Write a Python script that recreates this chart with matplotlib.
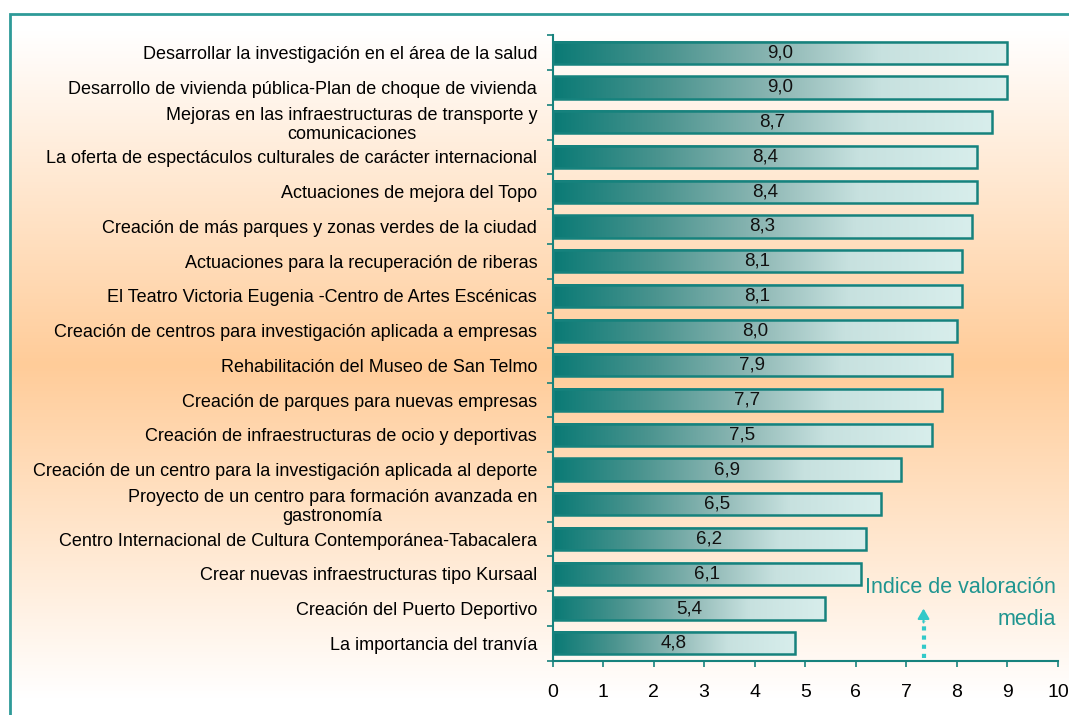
import numpy as np
import matplotlib
matplotlib.use("Agg")
import matplotlib.pyplot as plt
from matplotlib.colors import LinearSegmentedColormap, to_rgb
from matplotlib.patches import Rectangle

categories = [
    "Desarrollar la investigación en el área de la salud",
    "Desarrollo de vivienda pública-Plan de choque de vivienda",
    "Mejoras en las infraestructuras de transporte y\ncomunicaciones",
    "La oferta de espectáculos culturales de carácter internacional",
    "Actuaciones de mejora del Topo",
    "Creación de más parques y zonas verdes de la ciudad",
    "Actuaciones para la recuperación de riberas",
    "El Teatro Victoria Eugenia -Centro de Artes Escénicas",
    "Creación de centros para investigación aplicada a empresas",
    "Rehabilitación del Museo de San Telmo",
    "Creación de parques para nuevas empresas",
    "Creación de infraestructuras de ocio y deportivas",
    "Creación de un centro para la investigación aplicada al deporte",
    "Proyecto de un centro para formación avanzada en\ngastronomía",
    "Centro Internacional de Cultura Contemporánea-Tabacalera",
    "Crear nuevas infraestructuras tipo Kursaal",
    "Creación del Puerto Deportivo",
    "La importancia del tranvía",
]
values = [9.0, 9.0, 8.7, 8.4, 8.4, 8.3, 8.1, 8.1, 8.0, 7.9, 7.7, 7.5, 6.9, 6.5, 6.2, 6.1, 5.4, 4.8]
xticks = list(range(0, 11))
note_text = "Indice de valoración\nmedia"
note_x = 7.34

FONT = ["Liberation Sans", "DejaVu Sans"]
plt.rcParams["font.family"] = FONT

W, H = 1069, 715
fig = plt.figure(figsize=(W / 100, H / 100), dpi=100)
fig.patch.set_facecolor("white")

# background gradient inside frame
fx0, ftop = 10 / W, 1 - 14 / H
bg = fig.add_axes([fx0, 0, 1 - fx0, ftop], zorder=-10)
bg.set_axis_off()
t = np.linspace(0, 1, 400)
f = np.clip(1 - np.abs(2 * t - 1) * 1.05, 0, 1)
orange = np.array(to_rgb("#ffcc99"))
white = np.array([1.0, 1.0, 1.0])
grad = white[None, :] * (1 - f[:, None]) + orange[None, :] * f[:, None]
bg.imshow(grad[:, None, :], aspect="auto", extent=(0, 1, 0, 1), origin="upper")
bg.set_xlim(0, 1)
bg.set_ylim(0, 1)
fig.patches.append(Rectangle((fx0, -0.1), 1.2, ftop + 0.1, transform=fig.transFigure,
                             fill=False, edgecolor="#2e9a98", lw=2, zorder=5))

ax_left, ax_right = 552.5 / W, 1058 / W
ax_top, ax_bot = 1 - 35.3 / H, 1 - 660.7 / H
ax = fig.add_axes([ax_left, ax_bot, ax_right - ax_left, ax_top - ax_bot])
ax.patch.set_alpha(0)

n = len(categories)
y = np.arange(n)
bar_h = 0.64
teal = "#16827d"
bars = ax.barh(y, values, height=bar_h, facecolor="none", edgecolor=teal, lw=1.8, zorder=3)

cmap = LinearSegmentedColormap.from_list("tg", [
    (0.0, "#0a7a75"), (0.25, "#4b948f"), (0.5, "#8fb8b5"), (0.72, "#c7e1df"), (1.0, "#d8eeec")])
gline = np.linspace(0, 1, 256)[None, :]
for b in bars:
    x0, w = b.get_x(), b.get_width()
    yb, hb = b.get_y(), b.get_height()
    ax.imshow(gline, cmap=cmap, aspect="auto", extent=(x0, x0 + w, yb + hb, yb),
              zorder=2, interpolation="bicubic")

for b, v in zip(bars, values):
    ax.text(b.get_x() + b.get_width() / 2, b.get_y() + b.get_height() / 2,
            f"{v:.1f}".replace(".", ","), ha="center", va="center",
            fontsize=13.5, color="#111111", zorder=4)

ax.set_xlim(0, 10)
ax.set_ylim(n - 0.5, -0.5)
ax.set_xticks(xticks)
ax.set_xticklabels([str(v) for v in xticks], fontsize=14)
ax.set_yticks(y)
ax.set_yticklabels(categories, fontsize=13, linespacing=1.15)
for lab in ax.get_yticklabels():
    lab.set_multialignment("center")
ax.set_yticks(np.arange(n + 1) - 0.5, minor=True)
ax.tick_params(axis="y", which="major", length=0, pad=11)
ax.tick_params(axis="y", which="minor", length=4.5, width=1.2, color=teal)
ax.tick_params(axis="x", which="major", length=4.5, width=1.2, color=teal, pad=12)
for s in ["top", "right"]:
    ax.spines[s].set_visible(False)
for s in ["left", "bottom"]:
    ax.spines[s].set_color(teal)
    ax.spines[s].set_linewidth(1.5)

ax.text(9.95, 15.86, note_text, ha="right", va="center", multialignment="right",
        fontsize=15.5, color="#1f9590", linespacing=1.7, zorder=5)
ax.plot([note_x, note_x], [17.42, 16.35], ls=(0, (1, 1.2)), lw=3, color="#33c9c9", zorder=5)
ax.annotate("", xy=(note_x, 16.0), xytext=(note_x, 16.4),
            arrowprops=dict(arrowstyle="-|>,head_length=0.6,head_width=0.35",
                            color="#33c9c9", lw=1.5, shrinkA=0, shrinkB=0), zorder=5)

fig.savefig("out.png", dpi=100)
